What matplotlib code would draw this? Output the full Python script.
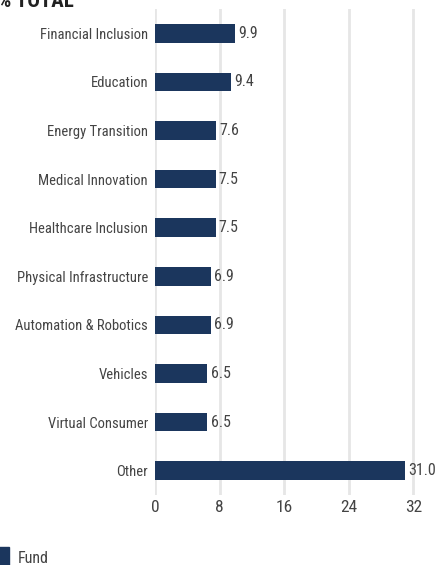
import matplotlib
matplotlib.use("Agg")
import matplotlib.pyplot as plt
from matplotlib.patches import Patch

plt.rcParams['font.family'] = ['Roboto Condensed', 'Liberation Sans Narrow', 'Liberation Sans', 'DejaVu Sans']

categories = ["Financial Inclusion", "Education", "Energy Transition", "Medical Innovation",
              "Healthcare Inclusion", "Physical Infrastructure", "Automation & Robotics",
              "Vehicles", "Virtual Consumer", "Other"]
fund = [9.9, 9.4, 7.6, 7.5, 7.5, 6.9, 6.9, 6.5, 6.5, 31.0]
xticks = [0, 8, 16, 24, 32]

bar_color = "#1b365d"
text_color = "#444444"

fig = plt.figure(figsize=(4.39, 5.65), dpi=100)
ax = fig.add_axes([0.353, 0.124, 0.607, 0.86])

y = list(range(len(categories)))
bars = ax.barh(y, fund, height=0.38, color=bar_color, zorder=3)
for b, v in zip(bars, fund):
    ax.text(b.get_width() + 0.4, b.get_y() + b.get_height() / 2, f"{v:.1f}",
            va="center", ha="left", fontsize=11.5, color=text_color)

ax.set_yticks(y)
ax.set_yticklabels(categories, fontsize=10.5, color=text_color)
ax.set_ylim(len(categories) - 0.5, -0.5)
ax.set_xlim(0, 33)
ax.set_xticks(xticks)
ax.set_xticklabels([str(t) for t in xticks], fontsize=12.5, color=text_color)
ax.tick_params(axis="y", length=0, pad=5)
ax.tick_params(axis="x", length=0, pad=4)
ax.grid(axis="x", color="#e6e6e6", linewidth=2, zorder=0)
for s in ax.spines.values():
    s.set_visible(False)

fig.text(-0.005, 0.998, "% TOTAL", fontsize=15, fontweight="bold", color="#222222",
         ha="left", va="center")

fig.legend(handles=[Patch(color=bar_color, label="Fund")], loc="lower left",
           bbox_to_anchor=(-0.035, -0.03), frameon=False, fontsize=11.5,
           handlelength=0.6, handleheight=1.6, handletextpad=0.6, labelcolor=text_color)

fig.savefig("out.png", dpi=100)
